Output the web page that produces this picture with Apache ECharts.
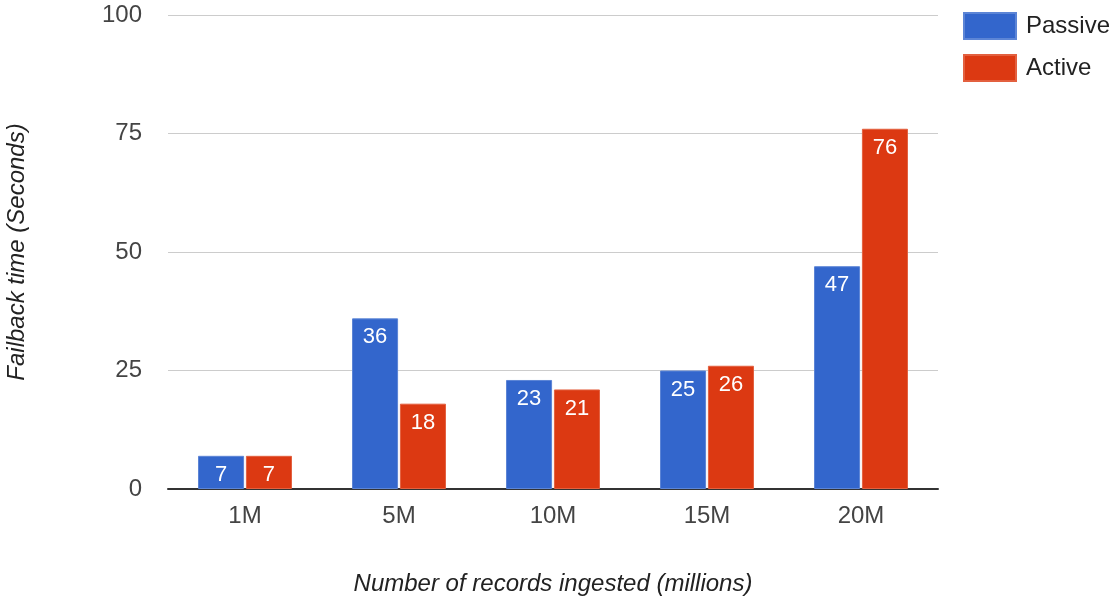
<!DOCTYPE html>
<html>
<head>
<meta charset="utf-8">
<script src="https://cdn.jsdelivr.net/npm/echarts@6/dist/echarts.min.js"></script>
<style>
  html, body { margin: 0; padding: 0; background: #fff; }
  #chart { width: 1112px; height: 599px; }
</style>
</head>
<body>
<div id="chart"></div>
<script>
// data
const categories = ["1M", "5M", "10M", "15M", "20M"];
const passive = [7, 36, 23, 25, 47];
const active = [7, 18, 21, 26, 76];
const yTicks = [0, 25, 50, 75, 100];

const chart = echarts.init(document.getElementById("chart"));
const font = "Liberation Sans, Arial, sans-serif";

const barLabel = {
  show: true,
  position: "insideTop",
  distance: 8,
  color: "#fff",
  fontSize: 22,
  fontFamily: font
};

const option = {
  animation: false,
  color: ["#3366cc", "#dc3912"],
  textStyle: { fontFamily: font },
  legend: {
    left: 958,
    top: 7,
    orient: "vertical",
    itemWidth: 52,
    itemHeight: 26,
    itemGap: 14,
    icon: "rect",
    textStyle: { fontSize: 24, color: "#222", fontFamily: font, padding: [0, 0, 0, 5] },
    data: ["Passive", "Active"]
  },
  grid: { left: 168, right: 174, top: 15, bottom: 110, outerBoundsMode: "none" },
  xAxis: {
    type: "category",
    data: categories,
    name: "Number of records ingested (millions)",
    nameLocation: "middle",
    nameGap: 83,
    nameTextStyle: { fontSize: 24, fontStyle: "italic", color: "#222", fontFamily: font },
    axisTick: { show: false },
    axisLine: { lineStyle: { color: "#333", width: 2 } },
    axisLabel: { fontSize: 24, color: "#444", margin: 15, fontFamily: font }
  },
  yAxis: {
    type: "value",
    min: yTicks[0],
    max: yTicks[yTicks.length - 1],
    interval: 25,
    name: "Failback time (Seconds)",
    nameLocation: "middle",
    nameGap: 139,
    nameTextStyle: { fontSize: 24, fontStyle: "italic", color: "#222", fontFamily: font },
    axisLine: { show: false },
    axisTick: { show: false },
    splitLine: { lineStyle: { color: "#cccccc", width: 1 } },
    axisLabel: { fontSize: 24, color: "#444", margin: 26, fontFamily: font }
  },
  series: [
    {
      name: "Passive",
      type: "bar",
      data: passive,
      barCategoryGap: "39%",
      barGap: "4%",
      itemStyle: { borderColor: "#5c85d6", borderWidth: 1 },
      label: barLabel
    },
    {
      name: "Active",
      type: "bar",
      data: active,
      itemStyle: { borderColor: "#e3603f", borderWidth: 1 },
      label: barLabel
    }
  ]
};

chart.setOption(option);
</script>
</body>
</html>
